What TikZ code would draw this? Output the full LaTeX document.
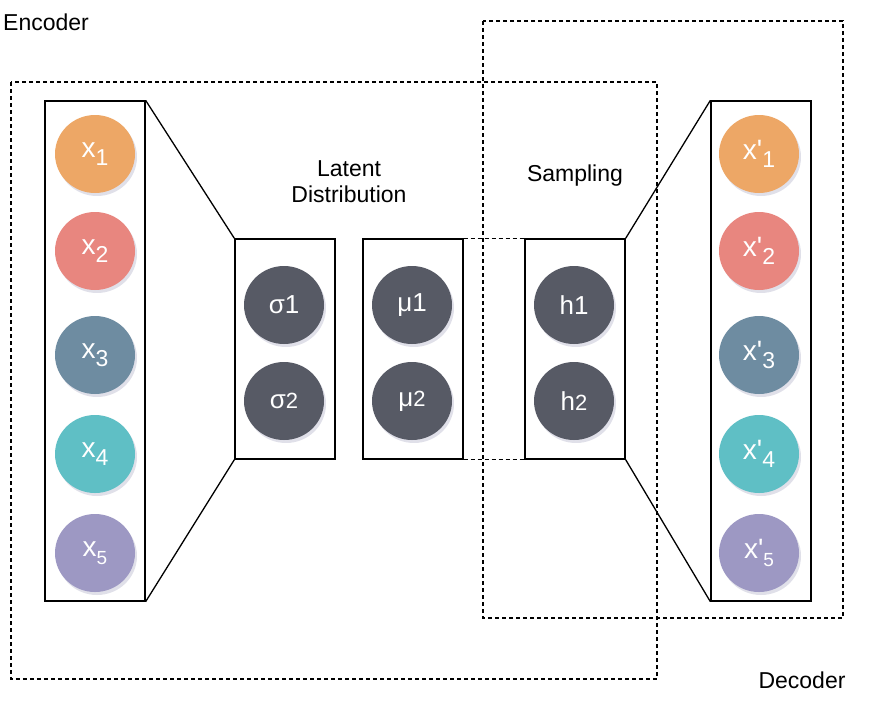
\documentclass[tikz,border=0pt]{standalone}
\usepackage{fontspec}
\setmainfont{Liberation Sans}
\usepackage{tikz}
\usetikzlibrary{positioning,shapes.geometric,shadows}
\usepackage{xcolor}

\definecolor{unitorange}{HTML}{EDA766}
\definecolor{unitsalmon}{HTML}{E8867F}
\definecolor{unitslate}{HTML}{6E8CA1}
\definecolor{unitteal}{HTML}{5FBFC5}
\definecolor{unitlilac}{HTML}{9D98C3}
\definecolor{unitdark}{HTML}{575A65}

\newcommand{\lowidx}[1]{\raisebox{-0.3em}{\fontsize{23}{23}\selectfont #1}}
\newcommand{\smallidx}[1]{\raisebox{-0.3em}{\fontsize{19}{19}\selectfont #1}}
\newcommand{\smalldigit}[1]{{\fontsize{22}{22}\selectfont #1}}

\begin{document}
\begin{tikzpicture}[
    x=1pt, y=-1pt,
    unit/.style={
      ellipse,
      minimum width=80pt,
      minimum height=78pt,
      inner sep=0pt,
      text=white,
      font=\fontsize{28}{28}\selectfont,
      drop shadow={shadow xshift=2pt, shadow yshift=-3pt,
        fill=black!70!blue, opacity=0.12}
    },
    latent/.style={
      unit,
      fill=unitdark,
      font=\fontsize{26}{26}\selectfont
    },
    layer/.style={
      draw,
      line width=1.3pt,
      minimum width=100pt,
      inner sep=0pt
    },
    region/.style={
      draw,
      line width=1.2pt,
      dash pattern=on 4pt off 3pt
    },
    caption/.style={
      align=center,
      font=\fontsize{23}{26}\selectfont
    }
  ]

    \useasboundingbox (0,0) rectangle (872,724);

    % Encoder and decoder regions
    \draw[region] (11,82) rectangle (657,679);
    \draw[region] (483,21) rectangle (843,618);
    \node[caption] (enc) at (46,22) {Encoder};
    \node[caption] (dec) at (802,680) {Decoder};

    % Layers
    \node[layer, minimum height=500pt] (inbox) at (95,351) {};
    \node[layer, minimum height=220pt] (sigbox) at (285,349) {};
    \node[layer, minimum height=220pt] (mubox) at (413,349) {};
    \node[layer, minimum height=220pt] (hbox) at (575,349) {};
    \node[layer, minimum height=500pt] (outbox) at (761,351) {};

    \node[caption] (latentlbl) at (349,182) {Latent\\Distribution};
    \node[caption] (samplelbl) at (575,176) {Sampling};

    % Input units
    \node[unit, fill=unitorange] (x1) at (95,154) {x\lowidx{1}};
    \node[unit, fill=unitsalmon] (x2) at (95,251) {x\lowidx{2}};
    \node[unit, fill=unitslate] (x3) at (95,355) {x\lowidx{3}};
    \node[unit, fill=unitteal] (x4) at (95,454) {x\lowidx{4}};
    \node[unit, fill=unitlilac] (x5) at (95,553) {x\smallidx{5}};

    % Latent units
    \node[latent] (s1) at (284,305) {σ1};
    \node[latent] (s2) at (284,401) {σ\smalldigit{2}};
    \node[latent] (m1) at (412,305) {μ1};
    \node[latent] (m2) at (412,401) {μ\smalldigit{2}};
    \node[latent] (h1) at (574,305) {h1};
    \node[latent] (h2) at (574,401) {h\smalldigit{2}};

    % Output units
    \node[unit, fill=unitorange] (y1) at (759,154) {x\textquotesingle\lowidx{1}};
    \node[unit, fill=unitsalmon] (y2) at (759,251) {x\textquotesingle\lowidx{2}};
    \node[unit, fill=unitslate] (y3) at (759,355) {x\textquotesingle\lowidx{3}};
    \node[unit, fill=unitteal] (y4) at (759,454) {x\textquotesingle\lowidx{4}};
    \node[unit, fill=unitlilac] (y5) at (759,553) {x\textquotesingle\smallidx{5}};

    % Connections
    \draw[line width=1.3pt] (inbox.north east) -- (sigbox.north west);
    \draw[line width=1.3pt] (inbox.south east) -- (sigbox.south west);
    \draw[region] (mubox.north east) -- (hbox.north west);
    \draw[region] (mubox.south east) -- (hbox.south west);
    \draw[line width=1.3pt] (hbox.north east) -- (outbox.north west);
    \draw[line width=1.3pt] (hbox.south east) -- (outbox.south west);

  \end{tikzpicture}
\end{document}
